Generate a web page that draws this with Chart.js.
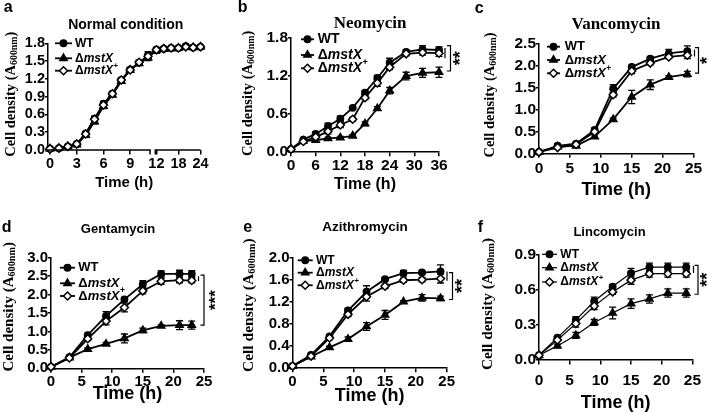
<!DOCTYPE html>
<html>
<head>
<meta charset="utf-8">
<title>Growth curves</title>
<script src="https://cdn.jsdelivr.net/npm/chart.js@4.4.1/dist/chart.umd.min.js"></script>
<style>
  body { margin: 0; background: #fff; }
  #figure { position: relative; width: 708px; height: 412px; }
  .panel { position: absolute; width: 236px; height: 206px; }
</style>
</head>
<body>
<div id="figure">
  <div class="panel" style="left:0;top:0"><canvas id="chartA"></canvas></div>
  <div class="panel" style="left:236px;top:0"><canvas id="chartB"></canvas></div>
  <div class="panel" style="left:472px;top:0"><canvas id="chartC"></canvas></div>
  <div class="panel" style="left:0;top:206px"><canvas id="chartD"></canvas></div>
  <div class="panel" style="left:236px;top:206px"><canvas id="chartE"></canvas></div>
  <div class="panel" style="left:472px;top:206px"><canvas id="chartF"></canvas></div>
</div>
<script>
const SANS = '"Liberation Sans", Arial, sans-serif';
const SERIF = '"Liberation Serif", "Times New Roman", serif';

// a - normal condition (broken time axis)
const normTime = [0, 1, 2, 3, 4, 5, 6, 7, 8, 9, 10, 11, 12, 14, 16, 18, 20, 22, 24];
const normWT = [0.02, 0.03, 0.06, 0.10, 0.28, 0.53, 0.78, 0.95, 1.18, 1.36, 1.47, 1.60, 1.69, 1.71, 1.72, 1.72, 1.75, 1.73, 1.74];
const normKO = [0.02, 0.03, 0.06, 0.09, 0.25, 0.48, 0.74, 0.93, 1.16, 1.35, 1.46, 1.56, 1.68, 1.70, 1.71, 1.72, 1.74, 1.73, 1.74];
const normComp = [0.02, 0.03, 0.06, 0.10, 0.27, 0.52, 0.76, 0.95, 1.18, 1.35, 1.48, 1.58, 1.69, 1.71, 1.72, 1.72, 1.74, 1.73, 1.74];
const normWTErr = [0.01, 0.01, 0.01, 0.02, 0.03, 0.04, 0.04, 0.04, 0.03, 0.03, 0.04, 0.06, 0.03, 0.02, 0.02, 0.02, 0.03, 0.02, 0.02];
const normKOErr = [0.01, 0.01, 0.01, 0.02, 0.03, 0.04, 0.04, 0.03, 0.03, 0.03, 0.03, 0.05, 0.05, 0.02, 0.02, 0.02, 0.02, 0.02, 0.02];
const normCompErr = [0.01, 0.01, 0.01, 0.02, 0.03, 0.04, 0.04, 0.03, 0.03, 0.03, 0.03, 0.04, 0.03, 0.02, 0.02, 0.02, 0.02, 0.02, 0.02];
const normXTicks = [0, 3, 6, 9, 12, 18, 24];
const normYTicks = [0, 0.3, 0.6, 0.9, 1.2, 1.5, 1.8];

// b - neomycin
const neoTime = [0, 3, 6, 9, 12, 15, 18, 21, 24, 28, 32, 36];
const neoWT = [0.04, 0.19, 0.28, 0.40, 0.52, 0.69, 0.93, 1.16, 1.40, 1.57, 1.61, 1.60];
const neoKO = [0.04, 0.17, 0.18, 0.21, 0.22, 0.25, 0.44, 0.68, 0.96, 1.19, 1.24, 1.25];
const neoComp = [0.04, 0.16, 0.23, 0.32, 0.42, 0.51, 0.85, 1.08, 1.33, 1.54, 1.56, 1.55];
const neoWTErr = [0.01, 0.02, 0.03, 0.05, 0.04, 0.02, 0.03, 0.04, 0.07, 0.03, 0.06, 0.05];
const neoKOErr = [0.01, 0.02, 0.02, 0.02, 0.02, 0.02, 0.03, 0.03, 0.05, 0.06, 0.07, 0.08];
const neoCompErr = [0.01, 0.02, 0.03, 0.04, 0.04, 0.03, 0.03, 0.05, 0.04, 0.03, 0.04, 0.05];
const neoXTicks = [0, 6, 12, 18, 24, 30, 36];
const neoYTicks = [0, 0.6, 1.2, 1.8];

// c - vancomycin
const vanTime = [0, 3, 6, 9, 12, 15, 18, 21, 24];
const vanWT = [0.03, 0.17, 0.22, 0.53, 1.47, 1.96, 2.15, 2.27, 2.32];
const vanKO = [0.03, 0.15, 0.17, 0.38, 0.77, 1.28, 1.56, 1.73, 1.80];
const vanComp = [0.03, 0.13, 0.20, 0.49, 1.33, 1.87, 2.05, 2.19, 2.23];
const vanWTErr = [0.01, 0.03, 0.03, 0.05, 0.09, 0.04, 0.04, 0.09, 0.12];
const vanKOErr = [0.01, 0.02, 0.03, 0.04, 0.03, 0.15, 0.11, 0.03, 0.06];
const vanCompErr = [0.01, 0.02, 0.03, 0.03, 0.05, 0.06, 0.04, 0.04, 0.08];
const vanXTicks = [0, 5, 10, 15, 20, 25];
const vanYTicks = [0, 0.5, 1.0, 1.5, 2.0, 2.5];

// d - gentamycin
const genTime = [0, 3, 6, 9, 12, 15, 18, 21, 23];
const genWT = [0.04, 0.30, 0.90, 1.42, 1.87, 2.28, 2.56, 2.56, 2.56];
const genKO = [0.04, 0.29, 0.52, 0.66, 0.81, 1.03, 1.15, 1.17, 1.17];
const genComp = [0.04, 0.28, 0.80, 1.28, 1.65, 2.10, 2.36, 2.39, 2.38];
const genWTErr = [0.01, 0.03, 0.05, 0.12, 0.05, 0.10, 0.08, 0.10, 0.09];
const genKOErr = [0.01, 0.03, 0.03, 0.04, 0.12, 0.06, 0.03, 0.12, 0.11];
const genCompErr = [0.01, 0.03, 0.05, 0.10, 0.12, 0.08, 0.08, 0.07, 0.06];
const genXTicks = [0, 5, 10, 15, 20, 25];
const genYTicks = [0, 0.5, 1.0, 1.5, 2.0, 2.5, 3.0];

// e - azithromycin
const aziTime = [0, 3, 6, 9, 12, 15, 18, 21, 24];
const aziWT = [0.03, 0.23, 0.57, 1.04, 1.38, 1.61, 1.72, 1.73, 1.75];
const aziKO = [0.03, 0.20, 0.37, 0.52, 0.75, 0.96, 1.20, 1.27, 1.26];
const aziComp = [0.03, 0.21, 0.54, 0.97, 1.29, 1.48, 1.59, 1.60, 1.62];
const aziWTErr = [0.01, 0.02, 0.03, 0.04, 0.11, 0.03, 0.05, 0.03, 0.12];
const aziKOErr = [0.01, 0.02, 0.02, 0.04, 0.07, 0.08, 0.02, 0.06, 0.04];
const aziCompErr = [0.01, 0.02, 0.03, 0.04, 0.08, 0.04, 0.04, 0.04, 0.08];
const aziXTicks = [0, 5, 10, 15, 20, 25];
const aziYTicks = [0, 0.4, 0.8, 1.2, 1.6, 2.0];

// f - lincomycin
const linTime = [0, 3, 6, 9, 12, 15, 18, 21, 24];
const linWT = [0.04, 0.19, 0.34, 0.50, 0.625, 0.74, 0.79, 0.79, 0.79];
const linKO = [0.04, 0.12, 0.21, 0.32, 0.40, 0.48, 0.52, 0.57, 0.57];
const linComp = [0.04, 0.17, 0.31, 0.46, 0.58, 0.68, 0.735, 0.735, 0.735];
const linWTErr = [0.005, 0.01, 0.03, 0.035, 0.015, 0.04, 0.035, 0.035, 0.035];
const linKOErr = [0.005, 0.015, 0.025, 0.025, 0.05, 0.04, 0.035, 0.035, 0.035];
const linCompErr = [0.005, 0.01, 0.03, 0.03, 0.02, 0.035, 0.03, 0.03, 0.03];
const linXTicks = [0, 5, 10, 15, 20, 25];
const linYTicks = [0, 0.3, 0.6, 0.9];

// time -> position on panel a's broken axis (0-11 h full scale, 12-24 h compressed)
function brokenAxis(t) {
  return t <= 11.5 ? t : 11.94 + 0.4125 * (t - 12);
}

const W = 236, H = 206;

function makePanel(id, p) {
  const xPos = t => (p.xMap ? p.xMap(t) : t);
  const toPts = vals => p.times.map((t, i) => ({ x: xPos(t), y: vals[i] }));
  const lw = p.lineWidth || 1.8;
  const marks = [
    { pointStyle: 'circle', pointRadius: 3.2, pointBackgroundColor: '#000' },
    { pointStyle: 'triangle', pointRadius: 4.2, pointBackgroundColor: '#000' },
    { pointStyle: 'rectRot', pointRadius: 4.0, pointBackgroundColor: '#fff' }
  ];
  const datasets = [
    { data: toPts(p.wt), errors: p.wtErr, order: 3 },
    { data: toPts(p.ko), errors: p.koErr, order: 2 },
    { data: toPts(p.comp), errors: p.compErr, order: 1 }
  ].map((d, i) => Object.assign(d, marks[i], {
    borderColor: '#000', borderWidth: lw, pointBorderColor: '#000',
    pointBorderWidth: 1.5, pointHoverRadius: marks[i].pointRadius,
    tension: 0, clip: false
  }));

  const extras = {
    id: 'extras',
    beforeDatasetsDraw(chart) {
      const ctx = chart.ctx, ys = chart.scales.y;
      ctx.save();
      ctx.strokeStyle = '#000';
      ctx.lineWidth = 1.3;
      chart.data.datasets.forEach((ds, i) => {
        chart.getDatasetMeta(i).data.forEach((pt, j) => {
          const e = ds.errors[j];
          const v = ds.data[j].y;
          const y1 = ys.getPixelForValue(v + e), y2 = ys.getPixelForValue(v - e);
          ctx.beginPath();
          ctx.moveTo(pt.x, y1); ctx.lineTo(pt.x, y2);
          ctx.moveTo(pt.x - 3.5, y1); ctx.lineTo(pt.x + 3.5, y1);
          ctx.moveTo(pt.x - 3.5, y2); ctx.lineTo(pt.x + 3.5, y2);
          ctx.stroke();
        });
      });
      ctx.restore();
    },
    afterDraw(chart) {
      const ctx = chart.ctx, area = chart.chartArea;
      const xs = chart.scales.x, ys = chart.scales.y;
      ctx.save();
      ctx.fillStyle = '#000';
      ctx.strokeStyle = '#000';

      // broken x axis
      if (p.brk) {
        ctx.lineWidth = 1.5;
        const e1 = xs.getPixelForValue(11.23), s2 = xs.getPixelForValue(11.82);
        ctx.beginPath();
        ctx.moveTo(area.left, area.bottom); ctx.lineTo(e1, area.bottom); ctx.lineTo(e1, area.bottom + 4.5);
        ctx.moveTo(s2, area.bottom + 4.5); ctx.lineTo(s2, area.bottom); ctx.lineTo(area.right, area.bottom);
        ctx.stroke();
      }

      // panel letter and title
      ctx.textAlign = 'center';
      ctx.textBaseline = 'middle';
      ctx.font = 'bold 16px ' + SANS;
      ctx.fillText(p.letter, p.letterPos[0], p.letterPos[1]);
      ctx.font = p.titleFont;
      ctx.fillText(p.title, p.titlePos[0], p.titlePos[1]);

      // x title
      ctx.font = 'bold ' + p.xTitle.size + 'px ' + SANS;
      ctx.fillText('Time (h)', (area.left + area.right) / 2, p.xTitle.y);

      // y title with subscript
      const s = p.yTitle.size;
      ctx.save();
      ctx.translate(p.yTitle.x, p.yTitle.y);
      ctx.rotate(-Math.PI / 2);
      ctx.textAlign = 'left';
      ctx.font = 'bold ' + s + 'px ' + SERIF;
      const main = 'Cell density (A', end = ')';
      const w1 = ctx.measureText(main).width, w3 = ctx.measureText(end).width;
      ctx.font = 'bold ' + (s * 0.68).toFixed(1) + 'px ' + SERIF;
      const w2 = ctx.measureText('600nm').width;
      let cx = -(w1 + w2 + w3) / 2;
      ctx.font = 'bold ' + s + 'px ' + SERIF;
      ctx.fillText(main, cx, 0);
      cx += w1;
      ctx.font = 'bold ' + (s * 0.68).toFixed(1) + 'px ' + SERIF;
      ctx.fillText('600nm', cx, s * 0.22);
      cx += w2;
      ctx.font = 'bold ' + s + 'px ' + SERIF;
      ctx.fillText(end, cx, 0);
      ctx.restore();

      // legend
      const lg = p.legend;
      ctx.lineWidth = lw;
      lg.ys.forEach((y, i) => {
        ctx.beginPath();
        ctx.moveTo(lg.x0, y); ctx.lineTo(lg.x1, y);
        ctx.stroke();
        ctx.fillStyle = marks[i].pointBackgroundColor;
        ctx.lineWidth = 1.5;
        Chart.helpers.drawPoint(ctx, { pointStyle: marks[i].pointStyle, radius: marks[i].pointRadius, borderWidth: 1.5, rotation: 0 }, (lg.x0 + lg.x1) / 2, y);
        ctx.lineWidth = lw;
        ctx.fillStyle = '#000';
        ctx.textAlign = 'left';
        let tx = lg.tx;
        if (i === 0) {
          ctx.font = 'bold ' + lg.size + 'px ' + SANS;
          ctx.fillText('WT', tx, y);
        } else {
          ctx.font = 'bold ' + lg.size + 'px ' + SANS;
          ctx.fillText('\u0394', tx, y);
          tx += ctx.measureText('\u0394').width;
          ctx.font = 'italic bold ' + lg.size + 'px ' + SANS;
          ctx.fillText('mstX', tx, y);
          tx += ctx.measureText('mstX').width;
          if (i === 2) {
            ctx.font = 'bold ' + (lg.size * 0.65).toFixed(1) + 'px ' + SANS;
            ctx.fillText('+', tx + 0.5, y - lg.size * 0.38);
          }
        }
      });

      // significance bracket
      if (p.sig) {
        const g = p.sig;
        ctx.lineWidth = 1.2;
        ctx.beginPath();
        ctx.moveTo(g.xs, ys.getPixelForValue(g.small[0]));
        ctx.lineTo(g.xs, ys.getPixelForValue(g.small[1]));
        const yt = ys.getPixelForValue(g.big[0]), yb = ys.getPixelForValue(g.big[1]);
        ctx.moveTo(g.xb - 3.5, yt); ctx.lineTo(g.xb, yt); ctx.lineTo(g.xb, yb); ctx.lineTo(g.xb - 3.5, yb);
        ctx.stroke();
        ctx.save();
        ctx.translate(g.xt, (yt + yb) / 2);
        ctx.rotate(-Math.PI / 2);
        ctx.textAlign = 'center';
        ctx.textBaseline = 'middle';
        ctx.font = 'bold ' + g.size + 'px ' + SANS;
        ctx.fillText(g.text, 0, 0);
        ctx.restore();
      }
      ctx.restore();
    }
  };

  const tickFont = { family: SANS, weight: 'bold', size: p.tick };
  new Chart(document.getElementById(id), {
    type: 'line',
    data: { datasets },
    options: {
      responsive: true,
      maintainAspectRatio: false,
      animation: false,
      layout: { padding: { left: 0, top: p.area.top, right: W - p.area.right, bottom: 0 } },
      plugins: { legend: { display: false }, tooltip: { enabled: false }, title: { display: false } },
      scales: {
        x: {
          type: 'linear',
          min: p.xMin || 0,
          max: p.xMax,
          afterBuildTicks: sc => { sc.ticks = p.xTicks.map(t => ({ value: xPos(t) })); },
          afterFit: sc => { sc.height = H - p.area.bottom; },
          ticks: { callback: (v, i) => String(p.xTicks[i]), font: tickFont, color: '#000', padding: p.xPad, maxRotation: 0, autoSkip: false },
          grid: { drawOnChartArea: false, drawTicks: true, tickLength: 4.5, color: '#000', lineWidth: 1.5 },
          border: { display: !p.brk, color: '#000', width: 1.5 }
        },
        y: {
          min: 0,
          max: p.yTicks[p.yTicks.length - 1],
          afterBuildTicks: sc => { sc.ticks = p.yTicks.map(v => ({ value: v })); },
          afterFit: sc => { sc.width = p.area.left; },
          ticks: { callback: (v, i) => p.yTicks[i].toFixed(1), font: tickFont, color: '#000', padding: 0, autoSkip: false },
          grid: { drawOnChartArea: false, drawTicks: true, tickLength: 3, color: '#000', lineWidth: 1.5 },
          border: { display: true, color: '#000', width: 1.5 }
        }
      }
    },
    plugins: [extras]
  });
}

makePanel('chartA', {
  times: normTime, wt: normWT, ko: normKO, comp: normComp,
  wtErr: normWTErr, koErr: normKOErr, compErr: normCompErr,
  xTicks: normXTicks, yTicks: normYTicks, xMap: brokenAxis, xMin: -0.225, xMax: 16.89, brk: true,
  area: { left: 48, top: 43.3, right: 200.5, bottom: 150 },
  tick: 14.5, xPad: 1,
  letter: 'a', letterPos: [8.3, 7.5],
  title: 'Normal condition', titleFont: 'bold 14px ' + SANS, titlePos: [125.7, 25],
  xTitle: { y: 183.3, size: 15 }, yTitle: { x: 11, y: 94.2, size: 14.5 },
  legend: { x0: 55, x1: 72, tx: 75, ys: [43.3, 58.3, 70.7], size: 12 }
});

makePanel('chartB', {
  times: neoTime, wt: neoWT, ko: neoKO, comp: neoComp,
  wtErr: neoWTErr, koErr: neoKOErr, compErr: neoCompErr,
  xTicks: neoXTicks, yTicks: neoYTicks, xMax: 36,
  area: { left: 55, top: 37.3, right: 203, bottom: 151.7 },
  tick: 15.5, xPad: 0.5,
  letter: 'b', letterPos: [6.7, 7.5],
  title: 'Neomycin', titleFont: 'bold 17px ' + SERIF, titlePos: [134, 23.3],
  xTitle: { y: 185, size: 16 }, yTitle: { x: 12, y: 93.3, size: 14.5 },
  legend: { x0: 65, x1: 78, tx: 81.7, ys: [39.3, 55, 68.3], size: 14 },
  sig: { small: [1.63, 1.47], big: [1.67, 1.27], xs: 209, xb: 214.5, xt: 225, text: '**', size: 18 }
});

makePanel('chartC', {
  times: vanTime, wt: vanWT, ko: vanKO, comp: vanComp,
  wtErr: vanWTErr, koErr: vanKOErr, compErr: vanCompErr,
  xTicks: vanXTicks, yTicks: vanYTicks, xMax: 25,
  area: { left: 67, top: 43.3, right: 221.5, bottom: 153.3 },
  tick: 15.5, xPad: 1.5,
  letter: 'c', letterPos: [7.3, 8.3],
  title: 'Vancomycin', titleFont: 'bold 17px ' + SERIF, titlePos: [144, 25],
  xTitle: { y: 190, size: 18 }, yTitle: { x: 18, y: 95, size: 14.5 },
  legend: { x0: 75, x1: 88, tx: 92.7, ys: [46.7, 60, 73.3], size: 13 },
  sig: { small: [2.36, 2.2], big: [2.40, 1.82], xs: 222.5, xb: 226.5, xt: 236, text: '*', size: 18 }
});

makePanel('chartD', {
  times: genTime, wt: genWT, ko: genKO, comp: genComp,
  wtErr: genWTErr, koErr: genKOErr, compErr: genCompErr,
  xTicks: genXTicks, yTicks: genYTicks, xMax: 25,
  area: { left: 51, top: 51.7, right: 204, bottom: 162.3 },
  tick: 15, xPad: 0,
  letter: 'd', letterPos: [6.7, 21.7],
  title: 'Gentamycin', titleFont: 'bold 13px ' + SANS, titlePos: [118, 23.3],
  xTitle: { y: 188, size: 18 }, yTitle: { x: 9, y: 100.8, size: 15 },
  legend: { x0: 60, x1: 75, tx: 78.3, ys: [61.7, 77.3, 90], size: 13 },
  sig: { small: [2.50, 2.36], big: [2.53, 1.17], xs: 198.5, xb: 204, xt: 216, text: '***', size: 17 }
});

makePanel('chartE', {
  times: aziTime, wt: aziWT, ko: aziKO, comp: aziComp,
  wtErr: aziWTErr, koErr: aziKOErr, compErr: aziCompErr,
  xTicks: aziXTicks, yTicks: aziYTicks, xMax: 25,
  area: { left: 56.5, top: 51.7, right: 210.7, bottom: 161.7 },
  tick: 15, xPad: 0.5,
  letter: 'e', letterPos: [11.7, 21.7],
  title: 'Azithromycin', titleFont: 'bold 13.5px ' + SANS, titlePos: [129, 21.7],
  xTitle: { y: 190, size: 18 }, yTitle: { x: 12.7, y: 99.2, size: 15.5 },
  legend: { x0: 61.7, x1: 76.7, tx: 80, ys: [54.3, 66.7, 79.3], size: 12 },
  sig: { small: [1.75, 1.58], big: [1.73, 1.24], xs: 211, xb: 216.5, xt: 227, text: '**', size: 18 }
});

makePanel('chartF', {
  times: linTime, wt: linWT, ko: linKO, comp: linComp,
  wtErr: linWTErr, koErr: linKOErr, compErr: linCompErr,
  xTicks: linXTicks, yTicks: linYTicks, xMax: 25, lineWidth: 1.2,
  area: { left: 67, top: 48.3, right: 221.7, bottom: 154 },
  tick: 15.5, xPad: 7,
  letter: 'f', letterPos: [8.3, 21.7],
  title: 'Lincomycin', titleFont: 'bold 13px ' + SANS, titlePos: [137.5, 26],
  xTitle: { y: 196.7, size: 18 }, yTitle: { x: 16, y: 98, size: 15.3 },
  legend: { x0: 70, x1: 85, tx: 88.3, ys: [48.3, 61.7, 76], size: 12 },
  sig: { small: [0.80, 0.74], big: [0.805, 0.56], xs: 221.5, xb: 226, xt: 236, text: '**', size: 18 }
});
</script>
</body>
</html>
